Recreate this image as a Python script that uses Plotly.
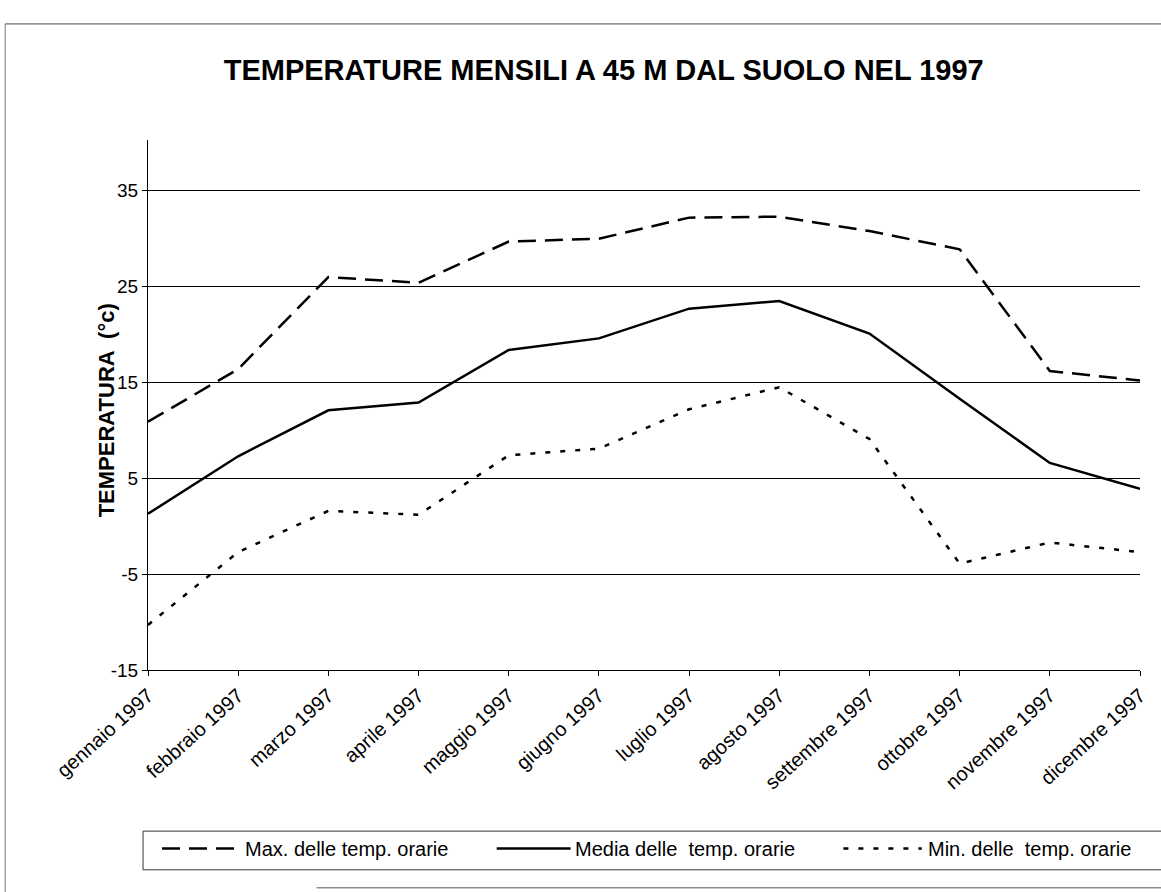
import plotly.graph_objects as go

# mesi del 1997
mesi = ["gennaio 1997", "febbraio 1997", "marzo 1997", "aprile 1997",
        "maggio 1997", "giugno 1997", "luglio 1997", "agosto 1997",
        "settembre 1997", "ottobre 1997", "novembre 1997", "dicembre 1997"]

# temperature (°C)
t_max = [10.9, 16.4, 26.0, 25.4, 29.7, 30.0, 32.2, 32.3, 30.8, 28.9, 16.2, 15.2]
t_media = [1.3, 7.3, 12.1, 12.9, 18.4, 19.6, 22.7, 23.5, 20.1, 13.3, 6.6, 3.9]
t_min = [-10.3, -2.7, 1.6, 1.2, 7.4, 8.1, 12.2, 14.5, 9.1, -3.9, -1.7, -2.7]

y_ticks = [-15, -5, 5, 15, 25, 35]
y_labels = ["-15", "-5", "5", "15", "25", "35"]

nomi = ["Max. delle temp. orarie", "Media delle  temp. orarie", "Min. delle  temp. orarie"]
stili = ["18px,9px", "solid", "5px,10px"]

FONT = "Liberation Sans, Arial, sans-serif"

fig = go.Figure()
for serie, nome, stile in zip([t_max, t_media, t_min], nomi, stili):
    fig.add_trace(go.Scatter(x=mesi, y=serie, mode="lines", name=nome,
                             showlegend=False,
                             line=dict(color="black", width=2.5, dash=stile)))

# cornice esterna e riquadro della legenda (coordinate paper)
shapes = [
    dict(type="line", xref="paper", yref="paper", x0=-0.144, x1=1.03, y0=1.219, y1=1.219,
         line=dict(color="#444", width=1)),
    dict(type="line", xref="paper", yref="paper", x0=-0.144, x1=-0.144, y0=1.219, y1=-0.42,
         line=dict(color="#777", width=1)),
    dict(type="rect", xref="paper", yref="paper", x0=-0.005, x1=1.03, y0=-0.377, y1=-0.304,
         line=dict(color="#333", width=1)),
    dict(type="line", xref="paper", yref="paper", x0=0.17, x1=1.03, y0=-0.411, y1=-0.411,
         line=dict(color="#555", width=1)),
]

# legenda disegnata a mano: simbolo lungo + testo
leg_sym = [(0.0141, 0.0896), (0.3515, 0.426), (0.701, 0.780)]
leg_txt = [0.0956, 0.428, 0.7845]
leg_y = -0.337
annotations = []
for (xa, xb), xt, nome, stile in zip(leg_sym, leg_txt, nomi, stili):
    shapes.append(dict(type="line", xref="paper", yref="paper", x0=xa, x1=xb,
                       y0=leg_y, y1=leg_y,
                       line=dict(color="black", width=2.5, dash=stile)))
    annotations.append(dict(text=nome, xref="paper", yref="paper", x=xt, y=leg_y,
                            xanchor="left", yanchor="middle", showarrow=False,
                            font=dict(size=20, family=FONT, color="black")))

# titolo asse y
annotations.append(dict(text="<b>TEMPERATURA  (°c)</b>", xref="paper", yref="paper",
                        x=-0.0423, y=0.49, textangle=-90, showarrow=False,
                        xanchor="center", yanchor="middle",
                        font=dict(size=22, family=FONT, color="black")))

fig.update_layout(
    width=1161, height=892,
    paper_bgcolor="white", plot_bgcolor="white",
    margin=dict(l=148, r=21, t=140, b=222),
    font=dict(family=FONT, color="black", size=18),
    title=dict(text="<b>TEMPERATURE MENSILI A 45 M DAL SUOLO NEL 1997</b>",
               x=0.52, xref="container", xanchor="center",
               y=1 - 70 / 892, yref="container", yanchor="middle",
               font=dict(size=29, family=FONT, color="black")),
    showlegend=False,
    shapes=shapes,
    annotations=annotations,
)

fig.update_xaxes(type="category", range=[0, 11], showgrid=False,
                 showline=True, linecolor="black", linewidth=1,
                 ticks="outside", ticklen=5, tickcolor="black",
                 tickangle=-42, tickfont=dict(size=20, family=FONT))
fig.update_yaxes(range=[-15, 40.3], tickvals=y_ticks, ticktext=y_labels,
                 showgrid=True, gridcolor="black", gridwidth=1, zeroline=False,
                 showline=True, linecolor="black", linewidth=1,
                 ticks="outside", ticklen=5, tickcolor="black",
                 tickfont=dict(size=19, family=FONT))

fig.write_html("out.html", config={"displayModeBar": False},
               post_script="document.body.style.margin='0';")
